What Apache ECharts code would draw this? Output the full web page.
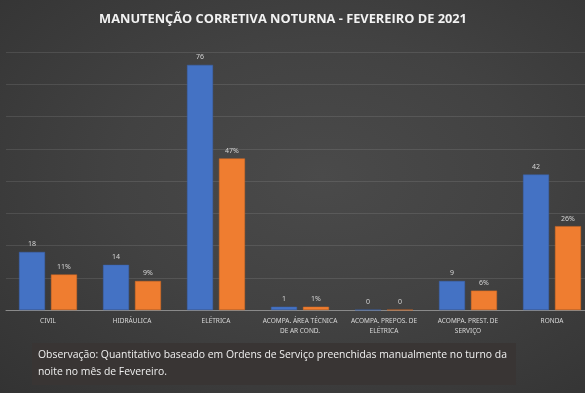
<!DOCTYPE html>
<html>
<head>
<meta charset="utf-8">
<script src="https://cdn.jsdelivr.net/npm/echarts@6/dist/echarts.min.js"></script>
<style>
html,body{margin:0;padding:0;}
body{width:585px;height:393px;overflow:hidden;background:radial-gradient(ellipse at 55% 45%, #4a4a4a 0%, #424242 45%, #333333 100%);}
#c{width:600px;height:393px;}
</style>
</head>
<body>
<div id="c"></div>
<script>
const categories = ['CIVIL', 'HIDRÁULICA', 'ELÉTRICA', 'ACOMPA. ÁREA TÉCNICA\nDE AR COND.', 'ACOMPA. PREPOS. DE\nELÉTRICA', 'ACOMPA. PREST. DE\nSERVIÇO', 'RONDA'];
const quantidade = [18, 14, 76, 1, 0, 9, 42];
const percentual = [11, 9, 47, 1, 0, 6, 26];
const titleText = 'MANUTENÇÃO CORRETIVA NOTURNA - FEVEREIRO DE 2021';
const noteLines = ['Observação: Quantitativo baseado em Ordens de Serviço preenchidas manualmente no turno da', 'noite no mês de Fevereiro.'];

const chart = echarts.init(document.getElementById('c'), null, {renderer: 'canvas'});
const labelStyle = {show: true, position: 'top', distance: 4, color: '#d4d4d4', fontSize: 7, fontFamily: 'Noto Sans'};
chart.setOption({
  backgroundColor: 'transparent',
  animation: false,
  title: {
    text: titleText, left: 278, top: 8, textAlign: 'center',
    textStyle: {color: '#f2f2f2', fontSize: 12.8, fontWeight: 'bold', fontFamily: 'Open Sans'}
  },
  grid: {left: 6, width: 588, top: 52, height: 258, outerBoundsMode: 'none'},
  xAxis: {
    type: 'category', data: categories,
    axisLine: {lineStyle: {color: '#8a8a8a', width: 1}},
    axisTick: {show: false},
    axisLabel: {color: '#d9d9d9', fontSize: 6.5, fontFamily: 'Noto Sans', margin: 6, lineHeight: 10, interval: 0}
  },
  yAxis: {
    type: 'value', min: 0, max: 80, interval: 10,
    axisLabel: {show: false}, axisLine: {show: false}, axisTick: {show: false},
    splitLine: {lineStyle: {color: 'rgba(255,255,255,0.1)', width: 1}}
  },
  series: [
    {type: 'bar', data: quantidade, barGap: '23%', barCategoryGap: '31%',
     itemStyle: {color: '#4472c4', borderColor: '#3a62ad', borderWidth: 0.5},
     label: labelStyle},
    {type: 'bar', data: percentual,
     itemStyle: {color: '#ef7d30', borderColor: '#d46a22', borderWidth: 0.5},
     label: Object.assign({}, labelStyle, {formatter: p => p.value === 0 ? '0' : p.value + '%'})}
  ],
  graphic: [
    {type: 'rect', shape: {x: 32, y: 343, width: 484, height: 42}, style: {fill: '#393534'}},
    {type: 'text', x: 38, y: 347, style: {text: noteLines.join('\n'), fill: '#f0f0f0', font: '10.4px "Open Sans"', lineHeight: 17}}
  ]
});
</script>
</body>
</html>
